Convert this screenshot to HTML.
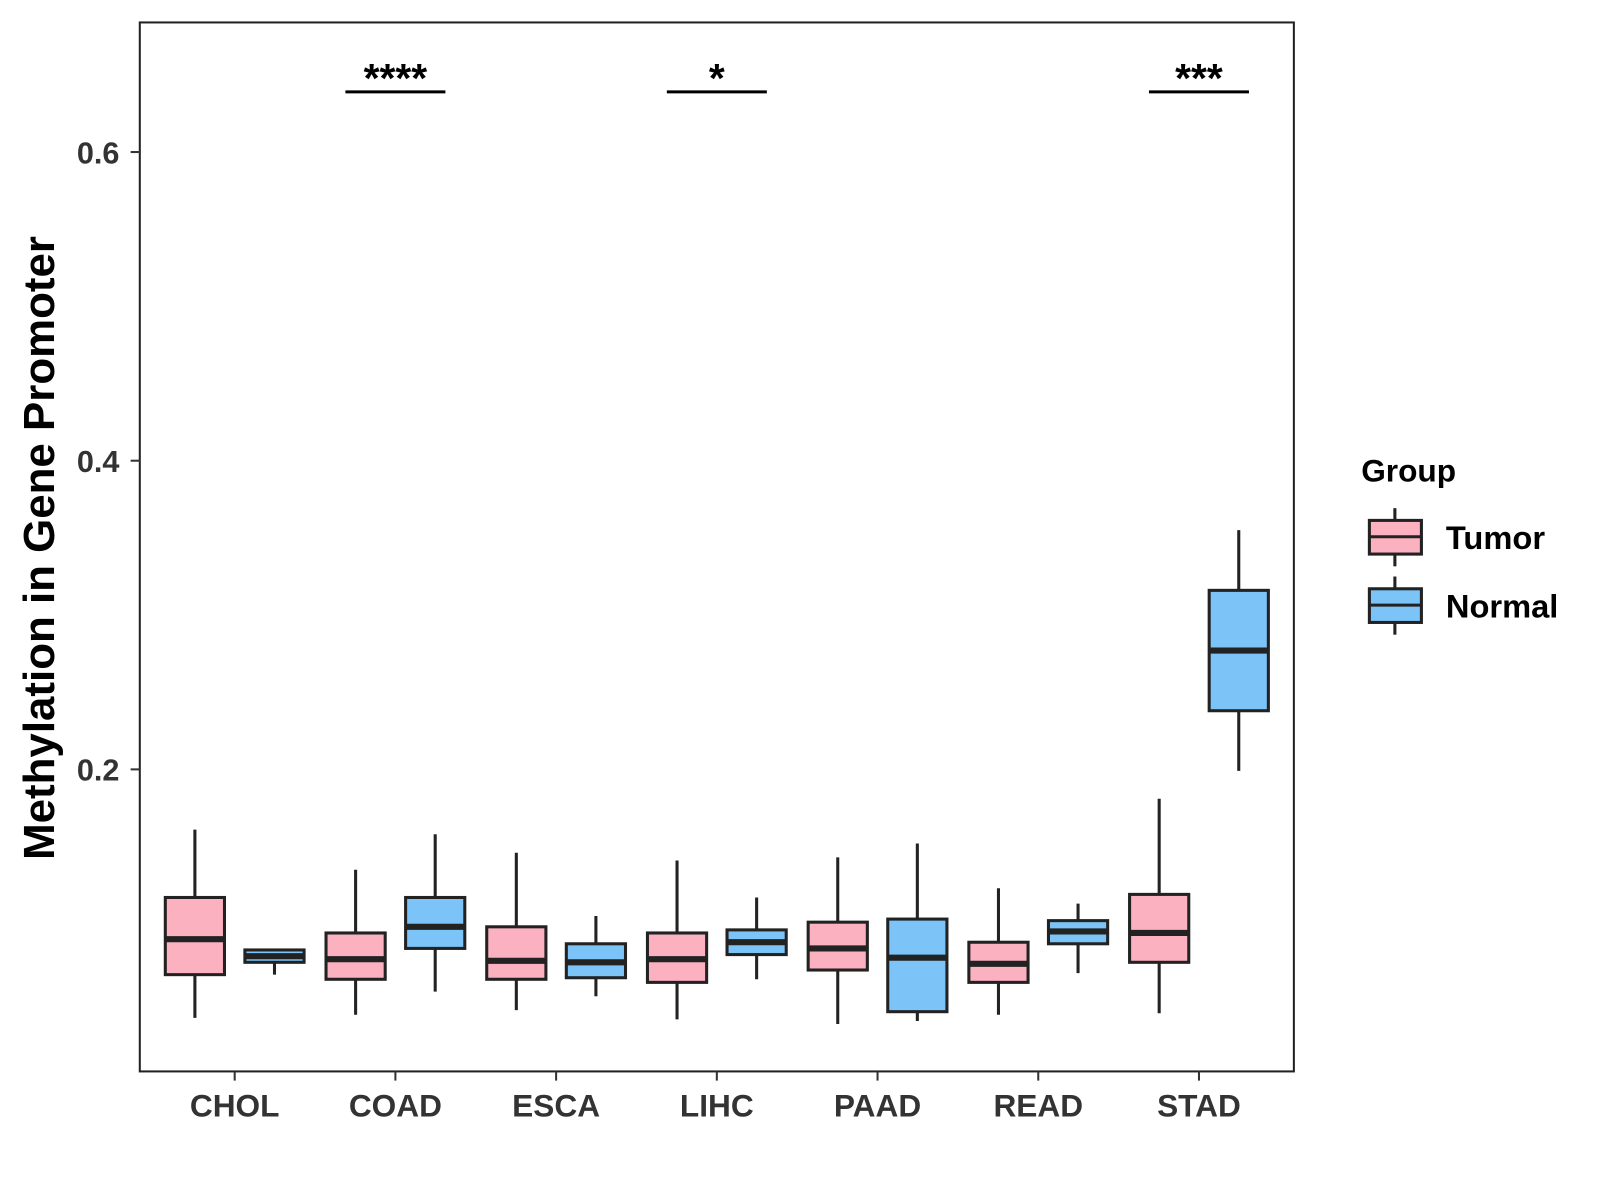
<!DOCTYPE html>
<html><head><meta charset="utf-8"><style>
body{margin:0;background:#fff;}
svg{display:block;font-family:"Liberation Sans",Arial,sans-serif;}
</style></head><body>
<svg id="chart" width="1600" height="1200" viewBox="0 0 1600 1200">
<g transform="scale(1.0204)">
<rect x="137" y="22" width="1131" height="1028" fill="#fff" stroke="#222" stroke-width="2"/>
<g id="marks"></g>
<g id="axes"></g>
<text transform="translate(53,537) rotate(-90)" text-anchor="middle" font-size="43" font-weight="bold" fill="#000">Methylation in Gene Promoter</text>
<g>
<text x="1334" y="472" font-size="31" font-weight="bold">Group</text>
<g>
<line x1="1367" y1="498" x2="1367" y2="555" stroke="#222" stroke-width="3"/>
<rect x="1342" y="510" width="51" height="33" fill="#fbb1c0" stroke="#222" stroke-width="3"/>
<line x1="1342" y1="526" x2="1393" y2="526" stroke="#222" stroke-width="3"/>
<text x="1417" y="538" font-size="32" font-weight="bold">Tumor</text></g>
<g>
<line x1="1367" y1="565" x2="1367" y2="622" stroke="#222" stroke-width="3"/>
<rect x="1342" y="577" width="51" height="33" fill="#7cc3f7" stroke="#222" stroke-width="3"/>
<line x1="1342" y1="593" x2="1393" y2="593" stroke="#222" stroke-width="3"/>
<text x="1417" y="605" font-size="32" font-weight="bold">Normal</text></g>
</g>
</g>
</svg>
<script>
const categories=["CHOL","COAD","ESCA","LIHC","PAAD","READ","STAD"];
// [whiskerLow, q1, median, q3, whiskerHigh]
const tumorStats=[[0.039,0.067,0.090,0.117,0.161],[0.041,0.064,0.077,0.094,0.135],[0.044,0.064,0.076,0.098,0.146],[0.038,0.062,0.077,0.094,0.141],[0.035,0.070,0.084,0.101,0.143],[0.041,0.062,0.074,0.088,0.123],[0.042,0.075,0.094,0.119,0.181]];
const normalStats=[[0.067,0.075,0.079,0.083,0.083],[0.056,0.084,0.098,0.117,0.158],[0.053,0.065,0.075,0.087,0.105],[0.064,0.080,0.088,0.096,0.117],[0.037,0.043,0.078,0.103,0.152],[0.068,0.087,0.095,0.102,0.113],[0.199,0.238,0.277,0.316,0.355]];
const yTicks=[0.2,0.4,0.6];
const sigCategories=["COAD","LIHC","STAD"];
const sigLabels=["****","*","***"];
const sigLevel=0.639;

const NS="http://www.w3.org/2000/svg";
const y=v=>754-(v-0.2)*1512.5;
const x=i=>230+i*157.5;
function mk(tag,attrs,parent){const e=document.createElementNS(NS,tag);for(const k in attrs)e.setAttribute(k,attrs[k]);parent.appendChild(e);return e;}
const marks=document.getElementById('marks'),axes=document.getElementById('axes');
function box(cx,s,fill,name){
 const g=mk('g',{},marks);
 
 
 mk('line',{x1:cx,x2:cx,y1:y(s[4]),y2:y(s[0]),stroke:'#222','stroke-width':3},g);
 mk('rect',{x:cx-29,y:y(s[3]),width:58,height:y(s[1])-y(s[3]),fill:fill,stroke:'#222','stroke-width':3},g);
 mk('line',{x1:cx-29,x2:cx+29,y1:y(s[2]),y2:y(s[2]),stroke:'#222','stroke-width':6},g);
}
categories.forEach((c,i)=>{
 box(x(i)-39,tumorStats[i],'#fbb1c0','box-tumor-'+c.toLowerCase());
 box(x(i)+39,normalStats[i],'#7cc3f7','box-normal-'+c.toLowerCase());
 mk('line',{x1:x(i),x2:x(i),y1:1050,y2:1059,stroke:'#333','stroke-width':2},axes);
 const t=mk('text',{x:x(i),y:1094,'text-anchor':'middle','font-size':31,'font-weight':'bold',fill:'#333'},axes);
 t.textContent=c;
 
 
});
yTicks.forEach(v=>{
 mk('line',{x1:128,x2:137,y1:y(v),y2:y(v),stroke:'#333','stroke-width':2},axes);
 const t=mk('text',{x:117,y:y(v)+11,'text-anchor':'end','font-size':30,'font-weight':'bold',fill:'#333'},axes);
 t.textContent=v.toFixed(1);
 
 
});
sigCategories.forEach((c,k)=>{
 const i=categories.indexOf(c);
 const g=mk('g',{},marks);
 
 
 mk('line',{x1:x(i)-49,x2:x(i)+49,y1:y(sigLevel),y2:y(sigLevel),stroke:'#000','stroke-width':3},g);
 const t=mk('text',{x:x(i),y:y(sigLevel),'text-anchor':'middle','font-size':40,'font-weight':'bold'},g);
 t.textContent=sigLabels[k];
});
</script>
</body></html>
